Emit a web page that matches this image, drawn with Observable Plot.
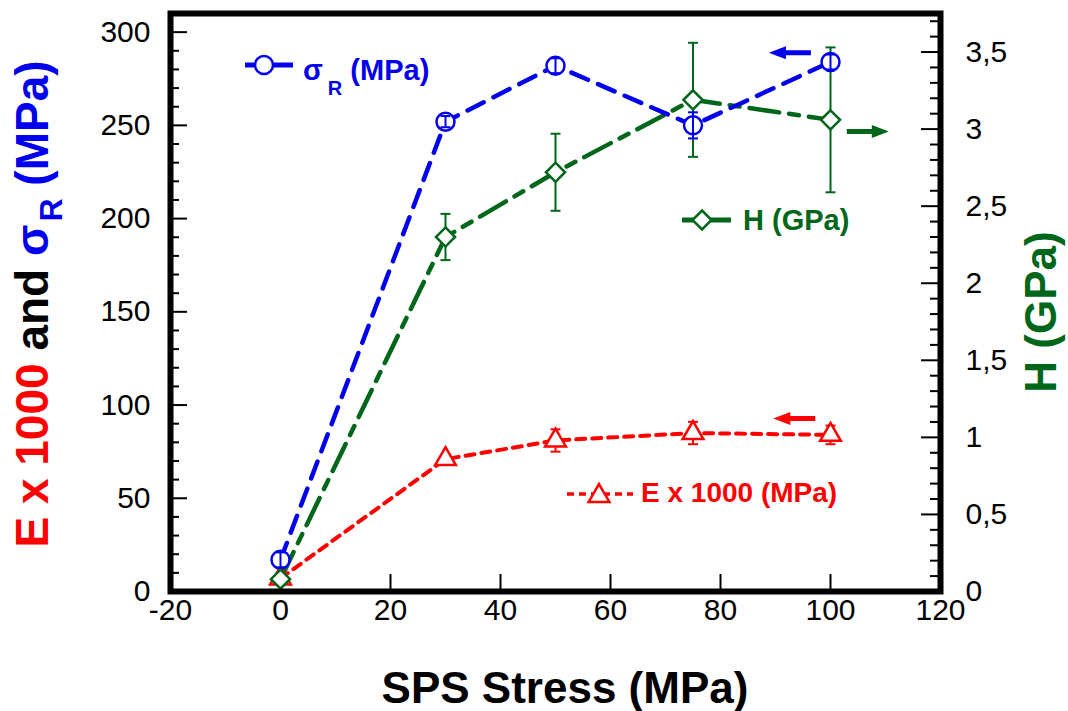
<!DOCTYPE html>
<html><head><meta charset="utf-8">
<script src="https://cdn.jsdelivr.net/npm/d3@7"></script>
<script src="https://cdn.jsdelivr.net/npm/@observablehq/plot@0.6"></script>
<style>body{margin:0;background:#fff;}</style>
</head><body><div id="chart"></div>
<script>
// ---- data ----
const stress      = [0, 30, 50, 75, 100];          // SPS Stress (MPa)
const sigmaR      = [17, 252, 282, 250, 284];       // σR (MPa)
const sigmaRErr   = [4, 3, 4, 7, 4];
const eModulus    = [7, 71, 81, 85, 84];            // E x 1000 (MPa)
const eModulusErr = [0, 0, 6, 6, 5];
const hardness    = [0.08, 2.30, 2.72, 3.19, 3.06]; // H (GPa)
const hardnessErr = [0, 0.15, 0.25, 0.37, 0.47];

const xTicks      = [-20, 0, 20, 40, 60, 80, 100, 120];
const leftTicks   = [0, 50, 100, 150, 200, 250, 300];
const leftMinor   = [10,20,30,40,60,70,80,90,110,120,130,140,160,170,180,190,210,220,230,240,260,270,280,290];
const rightTicks  = [0, 0.5, 1, 1.5, 2, 2.5, 3, 3.5];
const rightMinor  = [0.1,0.2,0.3,0.4,0.6,0.7,0.8,0.9,1.1,1.2,1.3,1.4,1.6,1.7,1.8,1.9,2.1,2.2,2.3,2.4,2.6,2.7,2.8,2.9,3.1,3.2,3.3,3.4,3.6,3.7];
const xDomain     = [-20, 120];
const leftDomain  = [0, 310];
const rightDomain = [0, 3.75];

// annotation arrows (tip position in data units, axis they refer to)
const arrowTips = [
  {series: "sigma", x: 88.8, y: 289, axis: "left", dir: "left"},
  {series: "H", x: 110.6, y: 2.985, axis: "right", dir: "right"},
  {series: "E", x: 89.6, y: 92.8, axis: "left", dir: "left"}
];

// ---- styling ----
const BLUE = "#0000ee", RED = "#ff0000", GREEN = "#00661a";
const colorOf = {sigma: BLUE, H: GREEN, E: RED};
const FONT = "'Liberation Sans', Arial, Helvetica, sans-serif";
const W = 1068, Hh = 711;
const mL = 170, mR = 128, mT = 13, mB = 120;
const plotW = W - mL - mR, plotH = Hh - mT - mB;
const k = leftDomain[1] / rightDomain[1]; // right-axis -> left-axis units

const rows = stress.map((x, i) => ({
  x, sigma: sigmaR[i], sigmaErr: sigmaRErr[i],
  E: eModulus[i], EErr: eModulusErr[i],
  H: hardness[i], HErr: hardnessErr[i]
}));

const cap = {draw(ctx) { ctx.moveTo(-5, 0); ctx.lineTo(5, 0); }};
const arrowSym = {draw(ctx) {
  ctx.moveTo(0, 0); ctx.lineTo(17, -6.5); ctx.lineTo(17, -2.5); ctx.lineTo(42, -2.5);
  ctx.lineTo(42, 2.5); ctx.lineTo(17, 2.5); ctx.lineTo(17, 6.5); ctx.closePath();
}};

const errRows = (key, errKey, f = v => v) => rows.filter(d => d[errKey] > 0).map(d => ({
  x: d.x, lo: f(d[key] - d[errKey]), hi: f(d[key] + d[errKey])
}));
const hErr = errRows("H", "HErr", v => v * k);
const eErr = errRows("E", "EErr");
const sErr = errRows("sigma", "sigmaErr");
const capsOf = arr => arr.flatMap(d => [{x: d.x, y: d.lo}, {x: d.x, y: d.hi}]);

const plot = Plot.plot({
  width: W, height: Hh,
  marginLeft: mL, marginRight: mR, marginTop: mT, marginBottom: mB,
  x: {domain: xDomain, axis: null},
  y: {domain: leftDomain, axis: null},
  style: {fontFamily: FONT, background: "white", overflow: "visible"},
  marks: [
    // inward ticks
    Plot.tickY(leftMinor, {y: d => d, stroke: "black", strokeWidth: 2, insetRight: plotW - 9}),
    Plot.tickY(leftTicks, {y: d => d, stroke: "black", strokeWidth: 2, insetRight: plotW - 17}),
    Plot.tickY(rightMinor, {y: d => d * k, stroke: "black", strokeWidth: 2, insetLeft: plotW - 10}),
    Plot.tickY(rightTicks, {y: d => d * k, stroke: "black", strokeWidth: 2, insetLeft: plotW - 19}),
    Plot.tickX(xTicks, {x: d => d, stroke: "black", strokeWidth: 2, insetTop: plotH - 17}),
    // lines
    Plot.line(rows, {x: "x", y: "E", stroke: RED, strokeWidth: 4, strokeDasharray: "9,7"}),
    Plot.line(rows, {x: "x", y: d => d.H * k, stroke: GREEN, strokeWidth: 4.5, strokeDasharray: "30,10,10,10"}),
    Plot.line(rows, {x: "x", y: "sigma", stroke: BLUE, strokeWidth: 4.5, strokeDasharray: "18,11"}),
    // error bars below markers (E, H)
    Plot.ruleX(eErr, {x: "x", y1: "lo", y2: "hi", stroke: RED, strokeWidth: 2}),
    Plot.dot(capsOf(eErr), {x: "x", y: "y", symbol: cap, stroke: RED, fill: "none", strokeWidth: 2}),
    Plot.ruleX(hErr, {x: "x", y1: "lo", y2: "hi", stroke: GREEN, strokeWidth: 2}),
    Plot.dot(capsOf(hErr), {x: "x", y: "y", symbol: cap, stroke: GREEN, fill: "none", strokeWidth: 2}),
    // markers
    Plot.dot(rows, {x: "x", y: "E", symbol: "triangle", r: 7.7, fill: "white", stroke: RED, strokeWidth: 2.5}),
    Plot.dot(rows, {x: "x", y: "sigma", r: 9, fill: "white", stroke: BLUE, strokeWidth: 2.5}),
    Plot.dot(rows, {x: "x", y: d => d.H * k, symbol: "diamond2", r: 8.6, fill: "white", stroke: GREEN, strokeWidth: 2.5}),
    // sigma error bars on top
    Plot.ruleX(sErr, {x: "x", y1: "lo", y2: "hi", stroke: BLUE, strokeWidth: 2}),
    Plot.dot(capsOf(sErr), {x: "x", y: "y", symbol: cap, stroke: BLUE, fill: "none", strokeWidth: 2}),
    // arrows
    Plot.dot(arrowTips, {x: "x", y: d => d.axis === "right" ? d.y * k : d.y, symbol: arrowSym,
      rotate: d => d.dir === "left" ? 0 : 180, fill: d => colorOf[d.series], stroke: "none"}),
    // tick labels
    Plot.text(leftTicks, {y: d => d, text: d => String(d), frameAnchor: "left", dx: -20, textAnchor: "end",
      fontSize: 30, fill: "black"}),
    Plot.text(rightTicks, {y: d => d * k, text: d => String(d).replace(".", ","), frameAnchor: "right", dx: 25,
      textAnchor: "start", fontSize: 30, fill: "black"}),
    Plot.text(xTicks, {x: d => d, text: d => String(d), frameAnchor: "bottom", dy: 28, fontSize: 30, fill: "black"}),
    Plot.frame({stroke: "black", strokeWidth: 6})
  ]
});

document.getElementById("chart").appendChild(plot);

// ---- axis titles & legend ----
const svg = d3.select(plot);
const addText = (sel, x, y, size, color) => sel.append("text").attr("x", x).attr("y", y)
  .attr("text-anchor", "start").attr("font-family", FONT).attr("font-weight", "bold")
  .attr("font-size", size).attr("fill", color);
// x title
svg.append("text").attr("x", 565).attr("y", 703).attr("text-anchor", "middle")
  .attr("font-family", FONT).attr("font-weight", "bold").attr("font-size", 44).attr("fill", "black")
  .text("SPS Stress (MPa)");
// left y title
const yl = svg.append("text").attr("transform", "translate(48,304) rotate(-90)").attr("text-anchor", "middle")
  .attr("font-family", FONT).attr("font-weight", "bold").attr("font-size", 46);
yl.append("tspan").attr("fill", RED).text("E x 1000");
yl.append("tspan").attr("fill", "black").text(" and ");
yl.append("tspan").attr("fill", BLUE).text("σ");
yl.append("tspan").attr("fill", BLUE).attr("font-size", 32).attr("dy", 14).attr("dx", 3).text("R");
yl.append("tspan").attr("fill", BLUE).attr("dy", -14).text(" (MPa)");
// right y title
svg.append("text").attr("transform", "translate(1056,312) rotate(-90)").attr("text-anchor", "middle")
  .attr("font-family", FONT).attr("font-weight", "bold").attr("font-size", 44).attr("fill", GREEN)
  .text("H (GPa)");

// legend: sigma
const lg = svg.append("g");
lg.append("line").attr("x1", 245).attr("x2", 293).attr("y1", 65).attr("y2", 65).attr("stroke", BLUE).attr("stroke-width", 5);
lg.append("circle").attr("cx", 264).attr("cy", 65).attr("r", 9).attr("fill", "white").attr("stroke", BLUE).attr("stroke-width", 2.5);
const st = addText(lg, 303, 80, 29, BLUE);
st.append("tspan").text("σ");
st.append("tspan").attr("font-size", 20).attr("dy", 15).attr("dx", 5).text("R");
st.append("tspan").attr("dy", -15).text(" (MPa)");
// legend: E
lg.append("line").attr("x1", 567).attr("x2", 633).attr("y1", 494).attr("y2", 494).attr("stroke", RED)
  .attr("stroke-width", 3.5).attr("stroke-dasharray", "7,5");
lg.append("path").attr("transform", "translate(599,496)").attr("d", d3.symbol(d3.symbolTriangle, 187)())
  .attr("fill", "white").attr("stroke", RED).attr("stroke-width", 2.5);
addText(lg, 641, 502, 28, RED).text("E x 1000 (MPa)");
// legend: H
lg.append("line").attr("x1", 682).attr("x2", 731).attr("y1", 220).attr("y2", 220).attr("stroke", GREEN).attr("stroke-width", 5);
lg.append("path").attr("transform", "translate(702,220)").attr("d", d3.symbol(d3.symbolDiamond2, 230)())
  .attr("fill", "white").attr("stroke", GREEN).attr("stroke-width", 2.5);
addText(lg, 743, 230, 29, GREEN).text("H (GPa)");
</script>
</body></html>
